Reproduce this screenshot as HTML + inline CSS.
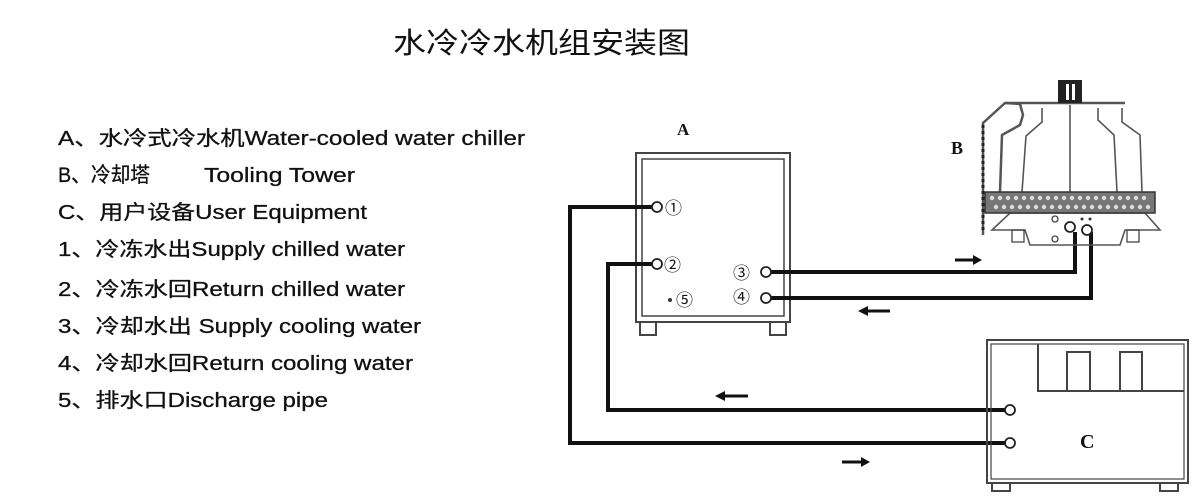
<!DOCTYPE html>
<html><head><meta charset="utf-8"><style>
html,body{margin:0;padding:0;background:#fff;width:1200px;height:499px;overflow:hidden}
svg{display:block}
text{font-family:"Liberation Sans","Noto Sans CJK SC",sans-serif;fill:#111}
.s{font-family:"Liberation Serif","Noto Serif CJK SC",serif;font-weight:bold}
</style></head><body>
<svg width="1200" height="499" viewBox="0 0 1200 499">
<text x="393" y="53" font-size="29" textLength="297" lengthAdjust="spacingAndGlyphs">水冷冷水机组安装图</text>
<g font-size="20" stroke="#111" stroke-width="0.3">
<text x="58" y="145" textLength="467" lengthAdjust="spacingAndGlyphs">A、水冷式冷水机Water-cooled water chiller</text>
<text x="58" y="182" font-size="21" textLength="92" lengthAdjust="spacingAndGlyphs">B、冷却塔</text>
<text x="204" y="182" textLength="151" lengthAdjust="spacingAndGlyphs">Tooling Tower</text>
<text x="58" y="219" textLength="309" lengthAdjust="spacingAndGlyphs">C、用户设备User Equipment</text>
<text x="58" y="256" textLength="347" lengthAdjust="spacingAndGlyphs">1、冷冻水出Supply chilled water</text>
<text x="58" y="296" textLength="347" lengthAdjust="spacingAndGlyphs">2、冷冻水回Return chilled water</text>
<text x="58" y="333" textLength="363" lengthAdjust="spacingAndGlyphs">3、冷却水出 Supply cooling water</text>
<text x="58" y="370" textLength="355" lengthAdjust="spacingAndGlyphs">4、冷却水回Return cooling water</text>
<text x="58" y="407" textLength="270" lengthAdjust="spacingAndGlyphs">5、排水口Discharge pipe</text>
</g>
<!-- Box A -->
<g fill="none" stroke="#444" stroke-width="2">
<rect x="636" y="153" width="154" height="169"/>
<rect x="642" y="159" width="142" height="157" stroke-width="1.5"/>
<rect x="640" y="322" width="16" height="13"/>
<rect x="770" y="322" width="16" height="13"/>
</g>
<text x="677" y="135" class="s" font-size="17">A</text>
<g font-size="17" fill="#333"><text x="665" y="214">①</text><text x="664" y="271">②</text><text x="733" y="279">③</text><text x="733" y="303">④</text><text x="676" y="306">⑤</text></g>
<circle cx="670" cy="300" r="2" fill="#333"/>
<!-- pipes -->
<g fill="none" stroke="#111" stroke-width="4">
<polyline points="652,207 570,207 570,443 1005,443"/>
<polyline points="652,264 608,264 608,410 1005,410"/>
<polyline points="771,272 1075,272 1075,232"/>
<polyline points="771,298 1091,298 1091,232"/>
</g>
<g fill="#fff" stroke="#222" stroke-width="1.8">
<circle cx="657" cy="207" r="5"/><circle cx="657" cy="264" r="5"/>
<circle cx="766" cy="272" r="5"/><circle cx="766" cy="298" r="5"/>
<circle cx="1010" cy="410" r="5"/><circle cx="1010" cy="443" r="5"/>
</g>
<!-- arrows -->
<g fill="#111" stroke="#111" stroke-width="3">
<line x1="955" y1="260" x2="975" y2="260"/><polygon points="973,255 982,260 973,265" stroke="none"/>
<line x1="868" y1="311" x2="890" y2="311"/><polygon points="868,306 858,311 868,316" stroke="none"/>
<line x1="725" y1="396" x2="748" y2="396"/><polygon points="725,391 715,396 725,401" stroke="none"/>
<line x1="842" y1="462" x2="862" y2="462"/><polygon points="861,457 870,462 861,467" stroke="none"/>
</g>
<!-- Box C -->
<g fill="none" stroke="#444" stroke-width="2">
<rect x="987" y="340" width="201" height="143"/>
<rect x="991" y="344" width="193" height="135" stroke-width="1.2"/>
<polyline points="1038,344 1038,391 1184,391"/>
<rect x="1067" y="352" width="23" height="39"/>
<rect x="1120" y="352" width="22" height="39"/>
<rect x="992" y="483" width="18" height="8"/>
<rect x="1160" y="483" width="18" height="8"/>
</g>
<text x="1080" y="448" class="s" font-size="20">C</text>
<!-- Tower B -->
<text x="951" y="154" class="s" font-size="18">B</text>
<g fill="none" stroke="#555" stroke-width="1.6">
<polyline points="983,235 983,123 1005,103 1020,104 1023,115 1020,125 1002,135 1000,192" stroke-width="2.5"/>
<line x1="983" y1="125" x2="983" y2="232" stroke="#222" stroke-width="3" stroke-dasharray="3,3"/>
<line x1="1005" y1="103" x2="1125" y2="103" stroke-width="2.5"/>
<polyline points="1042,108 1042,122 1026,136 1022,192"/>
<polyline points="1098,108 1098,120 1114,135 1117,192"/>
<polyline points="1122,108 1122,122 1140,135 1142,192"/>
<line x1="1070" y1="105" x2="1070" y2="192"/>
<polygon points="992,230 1010,213 1145,213 1160,230 1125,230 1120,245 1030,245 1025,230"/>
</g>
<rect x="1058" y="80" width="24" height="23" fill="#222"/>
<rect x="1066" y="84" width="3" height="16" fill="#fff"/><rect x="1072" y="84" width="3" height="16" fill="#fff"/>
<rect x="985" y="192" width="170" height="21" fill="#777" stroke="#333" stroke-width="1.5"/>
<g fill="#ddd">
<circle cx="992" cy="198" r="2.2"/><circle cx="1000" cy="198" r="2.2"/><circle cx="1008" cy="198" r="2.2"/><circle cx="1016" cy="198" r="2.2"/><circle cx="1024" cy="198" r="2.2"/><circle cx="1032" cy="198" r="2.2"/><circle cx="1040" cy="198" r="2.2"/><circle cx="1048" cy="198" r="2.2"/><circle cx="1056" cy="198" r="2.2"/><circle cx="1064" cy="198" r="2.2"/><circle cx="1072" cy="198" r="2.2"/><circle cx="1080" cy="198" r="2.2"/><circle cx="1088" cy="198" r="2.2"/><circle cx="1096" cy="198" r="2.2"/><circle cx="1104" cy="198" r="2.2"/><circle cx="1112" cy="198" r="2.2"/><circle cx="1120" cy="198" r="2.2"/><circle cx="1128" cy="198" r="2.2"/><circle cx="1136" cy="198" r="2.2"/><circle cx="1144" cy="198" r="2.2"/>
<circle cx="996" cy="207" r="2.2"/><circle cx="1004" cy="207" r="2.2"/><circle cx="1012" cy="207" r="2.2"/><circle cx="1020" cy="207" r="2.2"/><circle cx="1028" cy="207" r="2.2"/><circle cx="1036" cy="207" r="2.2"/><circle cx="1044" cy="207" r="2.2"/><circle cx="1052" cy="207" r="2.2"/><circle cx="1060" cy="207" r="2.2"/><circle cx="1068" cy="207" r="2.2"/><circle cx="1076" cy="207" r="2.2"/><circle cx="1084" cy="207" r="2.2"/><circle cx="1092" cy="207" r="2.2"/><circle cx="1100" cy="207" r="2.2"/><circle cx="1108" cy="207" r="2.2"/><circle cx="1116" cy="207" r="2.2"/><circle cx="1124" cy="207" r="2.2"/><circle cx="1132" cy="207" r="2.2"/><circle cx="1140" cy="207" r="2.2"/><circle cx="1148" cy="207" r="2.2"/>
</g>
<g fill="none" stroke="#444" stroke-width="1.3">
<rect x="1012" y="230" width="12" height="12"/><rect x="1127" y="230" width="12" height="12"/>
<circle cx="1055" cy="219" r="3"/><circle cx="1055" cy="239" r="3"/>
</g>
<g fill="#fff" stroke="#222" stroke-width="1.8"><circle cx="1070" cy="227" r="5"/><circle cx="1087" cy="230" r="5"/></g>
<circle cx="1082" cy="219" r="1.5" fill="#333"/><circle cx="1090" cy="219" r="1.5" fill="#333"/>
</svg>
</body></html>
